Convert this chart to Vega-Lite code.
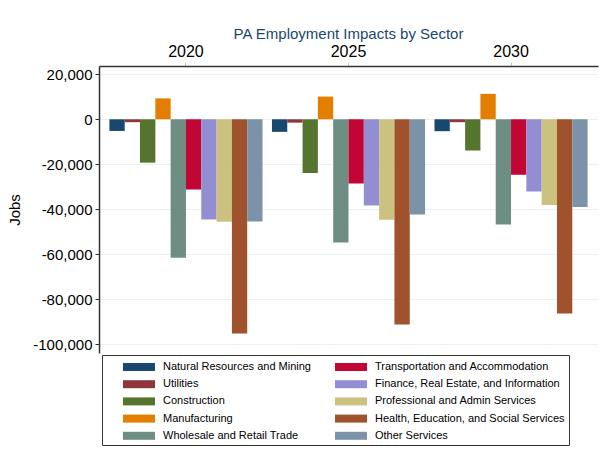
{
  "$schema": "https://vega.github.io/schema/vega-lite/v6.json",
  "autosize": "none",
  "padding": {"left": 99, "top": 66, "right": 2, "bottom": 100},
  "width": 499,
  "height": 287,
  "background": "white",
  "title": {
    "text": "PA Employment Impacts by Sector",
    "anchor": "middle",
    "color": "#1a476f",
    "font": "Liberation Sans",
    "fontSize": 15,
    "fontWeight": "normal",
    "offset": 1.5
  },
  "config": {
    "view": {"stroke": null},
    "font": "Liberation Sans"
  },
  "data": {
    "values": [
      {"year": "2020", "sector": "Natural Resources and Mining", "jobs": -5200},
      {"year": "2020", "sector": "Utilities", "jobs": -1300},
      {"year": "2020", "sector": "Construction", "jobs": -19300},
      {"year": "2020", "sector": "Manufacturing", "jobs": 9300},
      {"year": "2020", "sector": "Wholesale and Retail Trade", "jobs": -61600},
      {"year": "2020", "sector": "Transportation and Accommodation", "jobs": -31300},
      {"year": "2020", "sector": "Finance, Real Estate, and Information", "jobs": -44600},
      {"year": "2020", "sector": "Professional and Admin Services", "jobs": -45600},
      {"year": "2020", "sector": "Health, Education, and Social Services", "jobs": -95300},
      {"year": "2020", "sector": "Other Services", "jobs": -45500},
      {"year": "2025", "sector": "Natural Resources and Mining", "jobs": -5600},
      {"year": "2025", "sector": "Utilities", "jobs": -1500},
      {"year": "2025", "sector": "Construction", "jobs": -23900},
      {"year": "2025", "sector": "Manufacturing", "jobs": 10100},
      {"year": "2025", "sector": "Wholesale and Retail Trade", "jobs": -54800},
      {"year": "2025", "sector": "Transportation and Accommodation", "jobs": -28600},
      {"year": "2025", "sector": "Finance, Real Estate, and Information", "jobs": -38400},
      {"year": "2025", "sector": "Professional and Admin Services", "jobs": -44700},
      {"year": "2025", "sector": "Health, Education, and Social Services", "jobs": -91300},
      {"year": "2025", "sector": "Other Services", "jobs": -42400},
      {"year": "2030", "sector": "Natural Resources and Mining", "jobs": -5300},
      {"year": "2030", "sector": "Utilities", "jobs": -1300},
      {"year": "2030", "sector": "Construction", "jobs": -13900},
      {"year": "2030", "sector": "Manufacturing", "jobs": 11300},
      {"year": "2030", "sector": "Wholesale and Retail Trade", "jobs": -46800},
      {"year": "2030", "sector": "Transportation and Accommodation", "jobs": -24700},
      {"year": "2030", "sector": "Finance, Real Estate, and Information", "jobs": -32100},
      {"year": "2030", "sector": "Professional and Admin Services", "jobs": -38200},
      {"year": "2030", "sector": "Health, Education, and Social Services", "jobs": -86400},
      {"year": "2030", "sector": "Other Services", "jobs": -39000}
    ]
  },
  "mark": {"type": "bar", "strokeWidth": 0},
  "encoding": {
    "x": {
      "field": "year",
      "type": "nominal",
      "title": null,
      "scale": {"paddingInner": 0.058, "paddingOuter": 0.064},
      "axis": {
        "orient": "top",
        "labelAngle": 0,
        "labelFontSize": 16,
        "labelColor": "#000000",
        "labelPadding": 2.5,
        "domainColor": "#333333",
        "domainWidth": 1.5,
        "tickColor": "#cccccc",
        "tickSize": 4,
        "grid": false
      }
    },
    "xOffset": {
      "field": "sector",
      "type": "nominal",
      "sort": [
        "Natural Resources and Mining",
        "Utilities",
        "Construction",
        "Manufacturing",
        "Wholesale and Retail Trade",
        "Transportation and Accommodation",
        "Finance, Real Estate, and Information",
        "Professional and Admin Services",
        "Health, Education, and Social Services",
        "Other Services"
      ],
      "scale": {"paddingInner": 0, "paddingOuter": 0}
    },
    "y": {
      "field": "jobs",
      "type": "quantitative",
      "title": "Jobs",
      "scale": {"domain": [-104000, 23700], "nice": false, "zero": false},
      "axis": {
        "values": [20000, 0, -20000, -40000, -60000, -80000, -100000],
        "format": ",d",
        "labelExpr": "replace(datum.label, '\u2212', '-')",
        "labelFontSize": 15,
        "labelColor": "#000000",
        "labelPadding": 3,
        "titleFontSize": 15,
        "titleFontWeight": "normal",
        "titleColor": "#000000",
        "titlePadding": 10,
        "domainColor": "#333333",
        "domainWidth": 1.5,
        "tickColor": "#333333",
        "tickSize": 4,
        "gridColor": "#eaf2f3",
        "gridWidth": 1
      }
    },
    "color": {
      "field": "sector",
      "type": "nominal",
      "scale": {
        "domain": [
          "Natural Resources and Mining",
          "Utilities",
          "Construction",
          "Manufacturing",
          "Wholesale and Retail Trade",
          "Transportation and Accommodation",
          "Finance, Real Estate, and Information",
          "Professional and Admin Services",
          "Health, Education, and Social Services",
          "Other Services"
        ],
        "range": [
          "#1a476f", "#90353b", "#55752f", "#e37e00", "#6e8e84",
          "#c10534", "#938dd2", "#cac27e", "#a0522d", "#7b92a8"
        ]
      },
      "legend": {
        "title": null,
        "orient": "none",
        "legendX": 3,
        "legendY": 289,
        "columns": 2,
        "padding": 4,
        "strokeColor": "#333333",
        "symbolType": "M-2,-0.5H2V0.5H-2Z",
        "symbolSize": 256,
        "symbolStrokeWidth": 0,
        "symbolOpacity": 1,
        "symbolOffset": 25,
        "labelOffset": 16,
        "labelFontSize": 11,
        "labelColor": "#000000",
        "labelLimit": 300,
        "rowPadding": 4.2,
        "columnPadding": 7
      }
    }
  }
}
